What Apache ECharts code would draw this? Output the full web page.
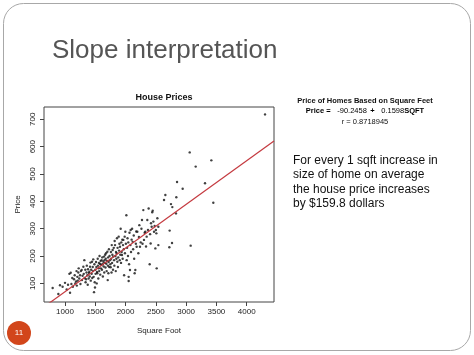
<!DOCTYPE html>
<html>
<head>
<meta charset="utf-8">
<style>
html,body{margin:0;padding:0;background:#fff;}
#main{width:474px;height:355px;}
</style>
<script src="https://cdn.jsdelivr.net/npm/echarts@6/dist/echarts.min.js"></script>
</head>
<body>
<div id="main"></div>
<script>
// house sizes (square foot) and prices
var sqft = [796,890,917,960,1000,1028,
	1050,1072,1083,1094,1105,1120,1130,1149,1160,1170,1182,1190,1195,
	1204,1210,1220,1226,1235,1248,1255,1262,1275,1280,1290,1303,1310,1319,1325,1335,1340,1347,1355,1360,1369,1375,1380,1390,1395,
	1402,1408,1413,1420,1425,1432,1440,1446,1450,1458,1462,1466,1473,1479,1485,1490,1495,1500,1505,1512,1518,1523,1528,1534,1540,1545,1550,1556,1560,1565,1570,1578,1582,1588,1592,1598,
	1605,1610,1615,1620,1625,1633,1638,1644,1648,1652,1658,1663,1668,1672,1677,1682,1688,1693,1699,1705,1708,1712,1716,1720,1725,1730,1735,1743,1748,1754,1758,1762,1768,1772,1777,1782,1787,1792,1798,
	1805,1810,1815,1820,1826,1832,1838,1842,1848,1853,1858,1864,1868,1874,1880,1886,1892,1898,1903,1908,1913,1919,1925,1930,1935,1941,1946,1952,1958,1963,1970,1976,1985,1990,1996,
	2005,2013,2018,2025,2032,2040,2045,2051,2051,2058,2065,2073,2080,2084,2090,2100,2108,2117,2125,2135,2142,2150,2161,2170,2176,2183,2194,
	2211,2220,2227,2238,2250,2262,2271,2280,2293,2304,2315,2326,2338,2348,2359,2370,2381,2398,2405,2414,2420,2431,2440,2448,2459,2470,2480,2492,2500,
	2508,2514,2525,2541,2541,2635,2657,2723,2728,2750,2767,2772,2833,2838,2850,2943,3059,3075,3158,3312,3416,3449,4303];
var price = [83,61,93,88,102,78,
	95,135,66,139,98,120,88,115,130,100,107,145,92,
	124,110,140,155,118,130,98,145,149,112,128,161,135,185,120,150,104,115,140,165,130,95,152,118,138,
	143,125,161,176,110,150,135,179,120,160,145,188,124,68,170,104,85,150,135,178,160,100,142,137,190,165,118,155,175,145,200,171,132,182,155,168,
	185,150,195,170,125,179,162,198,140,185,175,205,158,190,210,172,145,182,216,112,165,195,137,178,225,160,200,185,170,159,215,190,140,240,175,205,222,150,198,
	230,185,165,255,240,200,145,215,190,210,265,179,230,160,195,271,220,245,185,234,205,300,175,250,215,204,260,190,240,259,225,130,271,210,289,
	245,349,185,230,265,200,250,124,109,170,285,149,240,295,215,260,300,252,225,275,190,137,149,245,290,234,289,
	210,270,313,234,250,300,332,245,368,259,285,289,235,271,332,295,374,170,280,246,320,307,360,366,326,289,310,228,295,
	283,155,338,240,307,405,423,232,293,390,248,379,356,415,471,446,579,238,527,466,550,395,718];

// fitted line  Price = intercept + slope * SQFT
var intercept = -90.2458;
var slope = 0.1598;

var xTicks = [1000,1500,2000,2500,3000,3500,4000];
var yTicks = [100,200,300,400,500,600,700];

var xMin = 653, xMax = 4451, yMin = 32, yMax = 745;

var points = [];
for (var i = 0; i < sqft.length; i++) {
	points.push([sqft[i], price[i]]);
}
var fitLine = [[xMin, intercept + slope * xMin], [xMax, intercept + slope * xMax]];

var font = "'Liberation Sans', Arial, sans-serif";
var myChart = echarts.init(document.getElementById('main'));

var option = {
	backgroundColor: '#fff',
	animation: false,
	title: {
		text: 'House Prices',
		left: 159,
		top: 88,
		textAlign: 'center',
		textStyle: {fontFamily: font, fontSize: 9, fontWeight: 'bold', color: '#111'}
	},
	grid: {
		left: 44, top: 107, width: 230, height: 195,
		show: true, borderColor: '#444', borderWidth: 1, backgroundColor: 'transparent'
	},
	xAxis: {
		type: 'value', min: xMin, max: xMax,
		name: 'Square Foot', nameLocation: 'middle', nameGap: 25,
		nameTextStyle: {fontFamily: font, fontSize: 8, color: '#222'},
		axisLine: {show: false},
		splitLine: {show: false},
		axisTick: {show: true, length: 4, customValues: xTicks, lineStyle: {color: '#444'}},
		axisLabel: {customValues: xTicks, margin: 6, fontFamily: font, fontSize: 8, color: '#222',
			formatter: function(v){ return String(v); }}
	},
	yAxis: {
		type: 'value', min: yMin, max: yMax,
		name: 'Price', nameLocation: 'middle', nameGap: 22, nameRotate: 90,
		nameTextStyle: {fontFamily: font, fontSize: 8, color: '#222'},
		axisLine: {show: false},
		splitLine: {show: false},
		axisTick: {show: true, length: 4, customValues: yTicks, lineStyle: {color: '#444'}},
		axisLabel: {customValues: yTicks, rotate: 90, margin: 7, fontFamily: font, fontSize: 8, color: '#222'}
	},
	series: [{
		type: 'scatter',
		data: points,
		symbol: 'circle',
		symbolSize: 2.4,
		itemStyle: {color: '#111'}
	}, {
		type: 'line',
		data: fitLine,
		clip: true,
		symbol: 'none',
		lineStyle: {color: '#c4393f', width: 1.2}
	}],
	graphic: [
		{type: 'rect', shape: {x: 3.5, y: 3.5, width: 467, height: 347, r: 20},
			style: {fill: 'none', stroke: '#a8a8a8', lineWidth: 1}, silent: true},
		{type: 'text', left: 52, top: 38,
			style: {text: 'Slope interpretation', font: '26px ' + font, fill: '#555'}},
		{type: 'circle', shape: {cx: 19, cy: 333, r: 12}, style: {fill: '#d2461b'}},
		{type: 'text', x: 19, y: 333,
			style: {text: '11', font: '8px ' + font, fill: '#fff', align: 'center', verticalAlign: 'middle'}},
		{type: 'text', x: 365, y: 101,
			style: {text: 'Price of Homes Based on Square Feet', font: 'bold 7.5px ' + font, fill: '#111', align: 'center', verticalAlign: 'middle'}},
		{type: 'text', x: 365, y: 111,
			style: {
				text: '{b|Price =}  {n|-90.2458} {b|+}  {n|0.1598}{b|SQFT}',
				align: 'center', verticalAlign: 'middle',
				rich: {
					b: {fontFamily: font, fontSize: 7.5, fontWeight: 'bold', color: '#111'},
					n: {fontFamily: font, fontSize: 7.5, color: '#111'}
				}
			}},
		{type: 'text', x: 365, y: 122,
			style: {text: 'r = 0.8718945', font: '7.5px ' + font, fill: '#111', align: 'center', verticalAlign: 'middle'}},
		{type: 'text', left: 293, top: 153,
			style: {text: 'For every 1 sqft increase in\nsize of home on average\nthe house price increases\nby $159.8 dollars',
				font: '12px ' + font, fill: '#111', lineHeight: 14.5}}
	]
};
myChart.setOption(option);
</script>
</body>
</html>
